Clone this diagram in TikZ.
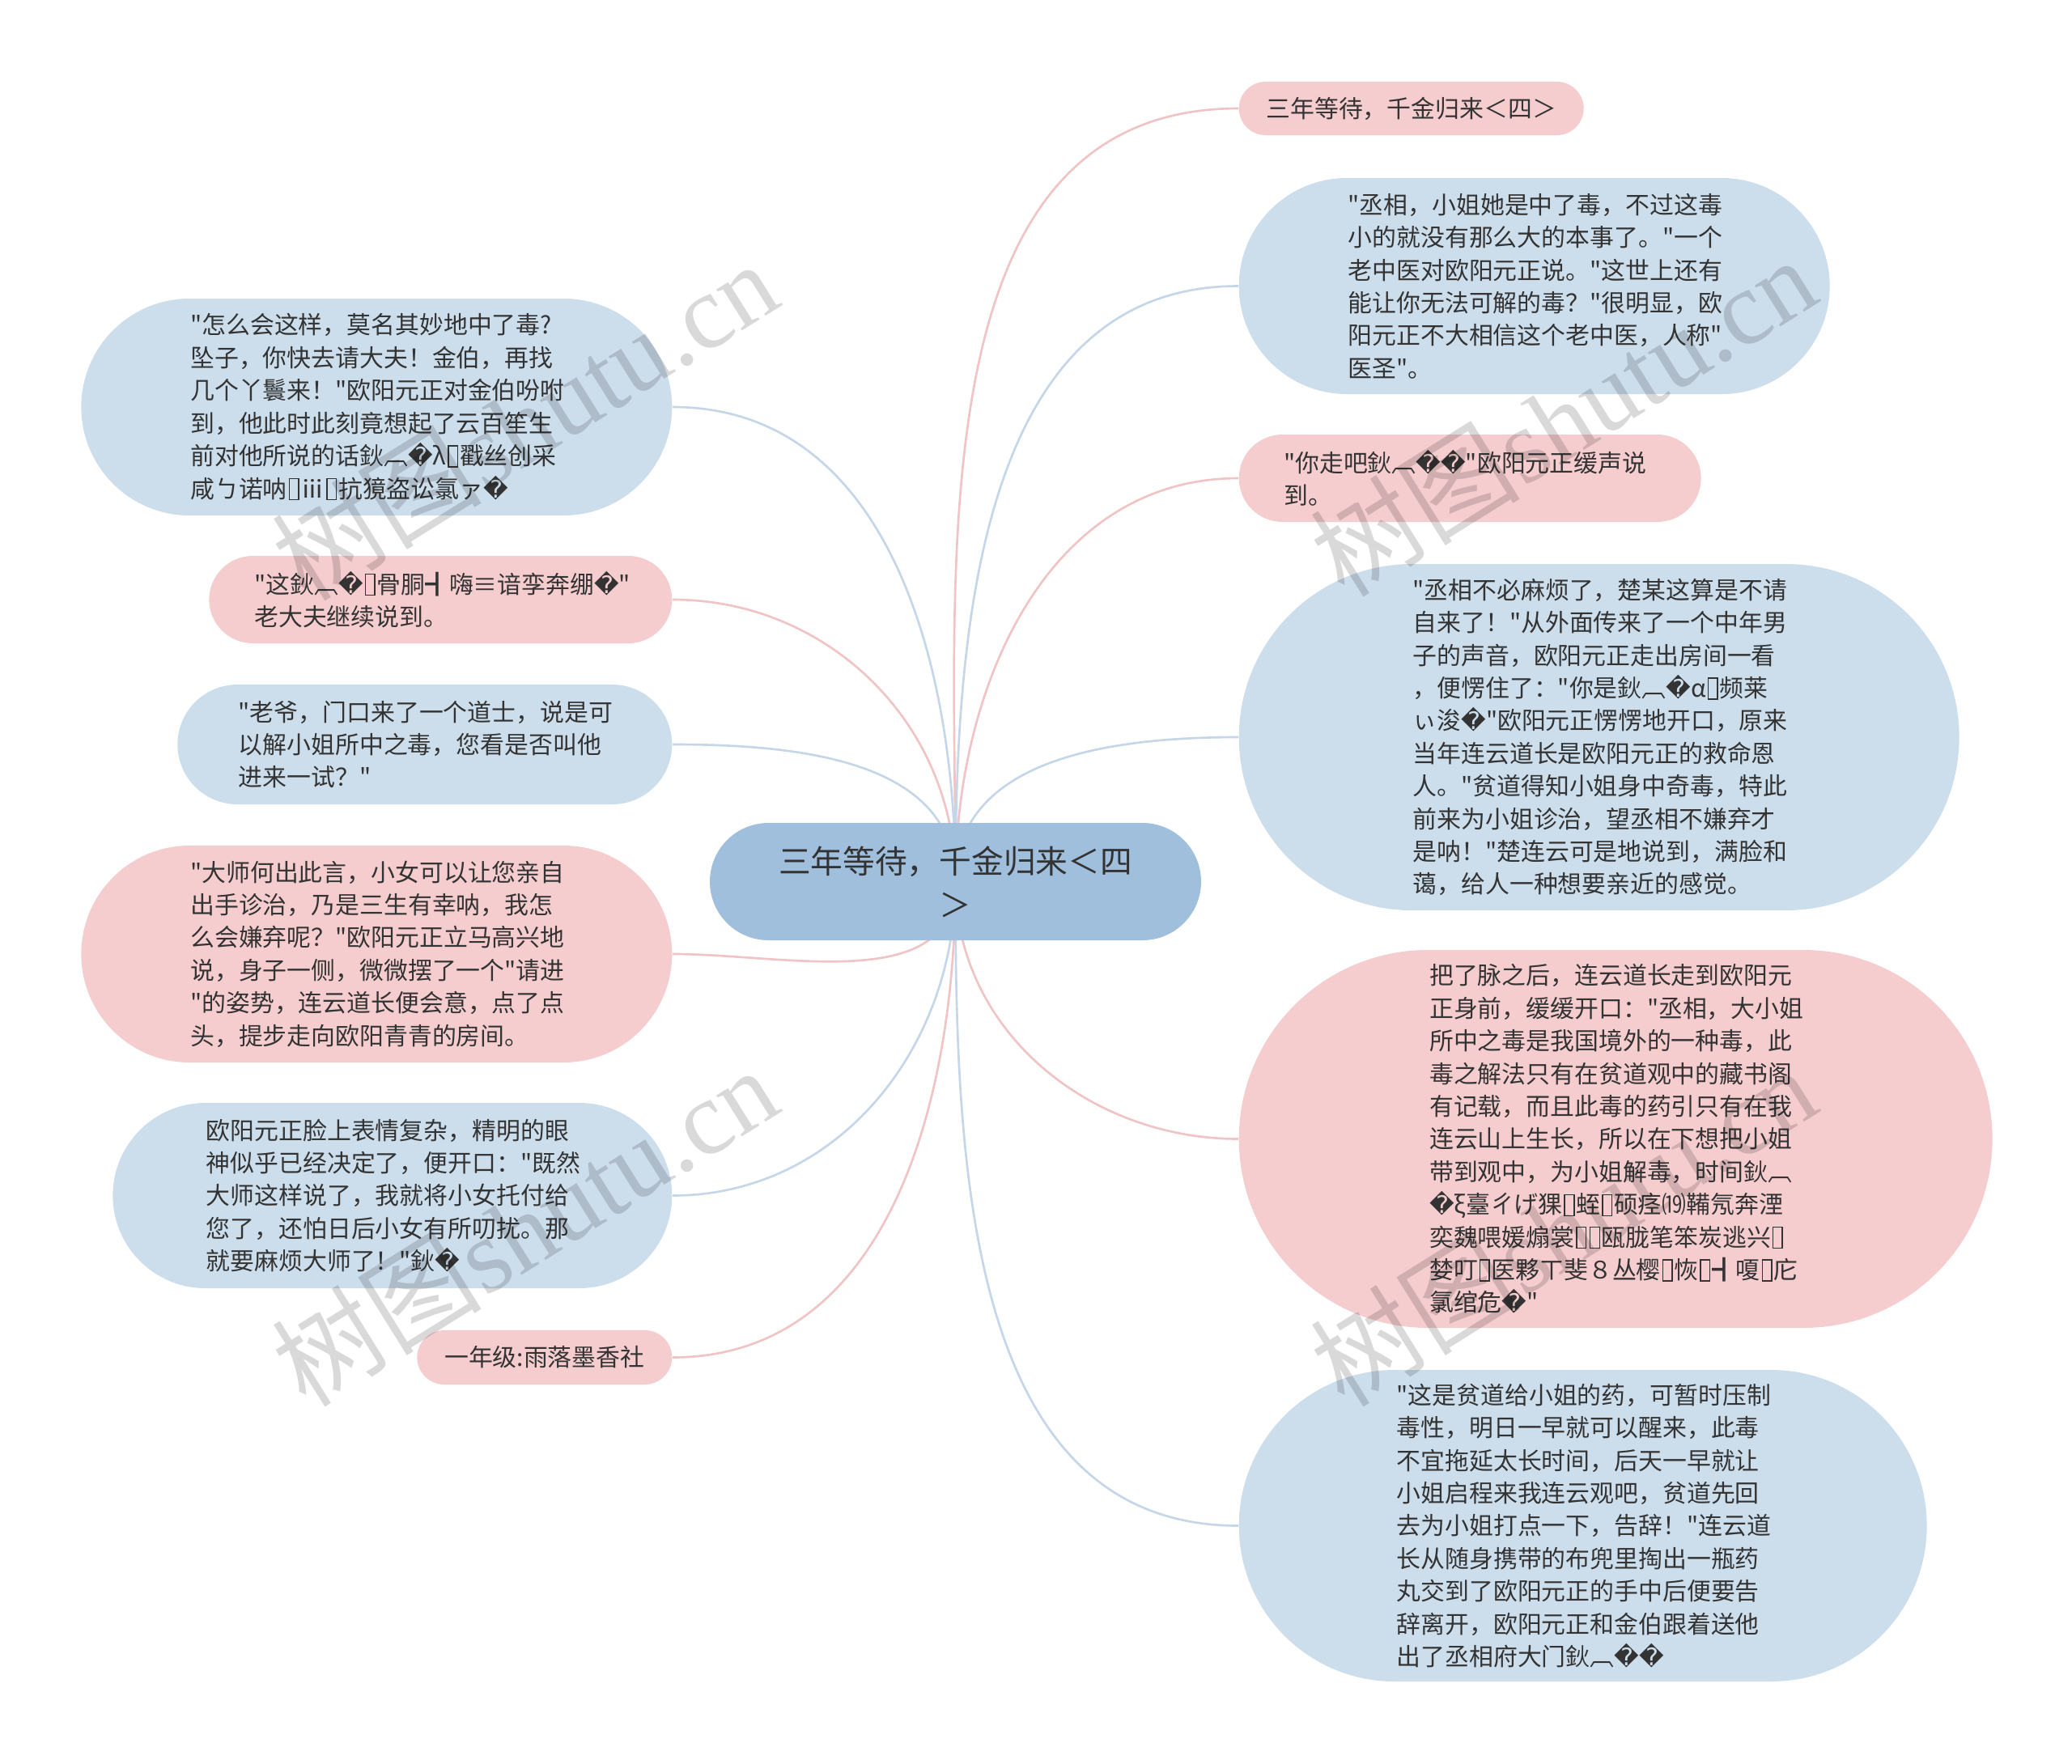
\documentclass[tikz,border=0pt]{standalone}
\usepackage{fontspec}
\setmainfont{Noto Sans CJK SC}[Ligatures=TeXOff]
\newfontfamily\glyphfont{DejaVu Sans}
\newfontfamily\markfont{Liberation Serif}
\usepackage{tikz}
\usetikzlibrary{shapes.misc,backgrounds}
\definecolor{rootblue}{HTML}{A0BFDC}
\definecolor{leafblue}{HTML}{CCDDEC}
\definecolor{leafpink}{HTML}{F5CDCF}
\definecolor{lineblue}{HTML}{C4D6E8}
\definecolor{linepink}{HTML}{F0C3C5}
\definecolor{inkgray}{HTML}{333333}
\newcommand{\bad}{{\glyphfont\char"FFFD}}
\newcommand{\tofu}{{\setlength\fboxsep{0pt}\setlength\fboxrule{0.05em}\kern0.06em\raisebox{-0.06em}{\framebox{\rule{0pt}{0.82em}\hspace{0.34em}}}\kern0.06em}}

\begin{document}
\begin{tikzpicture}[
    font=\fontsize{8.5}{11.5}\selectfont,
    topic/.style={rounded rectangle, fill=rootblue, text=inkgray, font=\fontsize{11.3}{15.3}\selectfont, text width=4.55cm, align=center, minimum height=1.45cm, minimum width=6.21cm, inner xsep=2pt, inner ysep=2pt},
    bluebox/.style={rounded rectangle, fill=leafblue, text=inkgray, text width=4.6cm, align=left, inner xsep=2pt, inner ysep=2pt},
    pinkbox/.style={rounded rectangle, fill=leafpink, text=inkgray, text width=4.6cm, align=left, inner xsep=2pt, inner ysep=2pt},
    pinktag/.style={rounded rectangle, fill=leafpink, text=inkgray, inner xsep=2pt, inner ysep=2pt},
    blueline/.style={draw=lineblue, line width=0.75pt},
    pinkline/.style={draw=linepink, line width=0.75pt},
    wmark/.style={text=black, text opacity=0.15, font=\fontsize{37}{40}\selectfont, rotate=32}
]
\useasboundingbox (0,0) rectangle (25.60,-21.79);

\node[topic] (root) at (11.805,-10.895) {三年等待，千金归来＜四\\＞};

% right branch
\node[pinktag, anchor=west, minimum height=0.66cm, minimum width=4.40cm] (r1) at (15.30,-1.34) {三年等待，千金归来＜四＞};
\node[bluebox, anchor=west, minimum height=2.67cm, minimum width=7.44cm] (r2) at (15.30,-3.535) {"丞相，小姐她是中了毒，不过这毒\\小的就没有那么大的本事了。"一个\\老中医对欧阳元正说。"这世上还有\\能让你无法可解的毒？"很明显，欧\\阳元正不大相信这个老中医，人称"\\医圣"。};
\node[pinkbox, anchor=west, minimum height=1.08cm, minimum width=5.85cm] (r3) at (15.30,-5.91) {"你走吧鈥︹\bad\bad"欧阳元正缓声说\\到。};
\node[bluebox, anchor=west, minimum height=4.28cm, minimum width=9.04cm] (r4) at (15.30,-9.11) {"丞相不必麻烦了，楚某这算是不请\\自来了！"从外面传来了一个中年男\\子的声音，欧阳元正走出房间一看\\，便愣住了："你是鈥︹\bad{}α\tofu{}频莱\\ぃ浚\bad"欧阳元正愣愣地开口，原来\\当年连云道长是欧阳元正的救命恩\\人。"贫道得知小姐身中奇毒，特此\\前来为小姐诊治，望丞相不嫌弃才\\是呐！"楚连云可是地说到，满脸和\\蔼，给人一种想要亲近的感觉。};
\node[pinkbox, anchor=west, minimum height=4.67cm, minimum width=9.45cm] (r5) at (15.30,-14.075) {把了脉之后，连云道长走到欧阳元\\正身前，缓缓开口："丞相，大小姐\\所中之毒是我国境外的一种毒，此\\毒之解法只有在贫道观中的藏书阁\\有记载，而且此毒的药引只有在我\\连云山上生长，所以在下想把小姐\\带到观中，为小姐解毒，时间鈥︹\\\bad{}ξ臺ㄔげ猓\tofu{}蛭\tofu{}硕痉⒆鞴氖奔湮\\奕魏喂媛煽裳\tofu\tofu{}瓯胧笔笨炭逃兴\tofu\\婪叮\tofu{}医夥ㄒ斐８丛樱\tofu{}恢\tofu{}┫嗄\tofu{}庀\\氯绾危\bad"};
\node[bluebox, anchor=west, minimum height=3.85cm, minimum width=8.64cm] (r6) at (15.30,-18.855) {"这是贫道给小姐的药，可暂时压制\\毒性，明日一早就可以醒来，此毒\\不宜拖延太长时间，后天一早就让\\小姐启程来我连云观吧，贫道先回\\去为小姐打点一下，告辞！"连云道\\长从随身携带的布兜里掏出一瓶药\\丸交到了欧阳元正的手中后便要告\\辞离开，欧阳元正和金伯跟着送他\\出了丞相府大门鈥︹\bad\bad};

% left branch
\node[bluebox, anchor=east, minimum height=2.68cm, minimum width=7.44cm] (l1) at (8.31,-5.03) {"怎么会这样，莫名其妙地中了毒?\\坠子，你快去请大夫！金伯，再找\\几个丫鬟来！"欧阳元正对金伯吩咐\\到，他此时此刻竟想起了云百笙生\\前对他所说的话鈥︹\bad{}λ\tofu{}戳丝创采\\咸ㄅ诺呐\tofu{}ⅲ\tofu{}抗獍盗讼氯ァ\bad};
\node[pinkbox, anchor=east, minimum height=1.08cm, minimum width=5.86cm] (l2) at (8.31,-7.41) {"这鈥︹\bad\tofu{}骨胴┫嗨≡谙孪奔绷\bad"\\老大夫继续说到。};
\node[bluebox, anchor=east, minimum height=1.48cm, minimum width=6.25cm] (l3) at (8.31,-9.20) {"老爷，门口来了一个道士，说是可\\以解小姐所中之毒，您看是否叫他\\进来一试？"};
\node[pinkbox, anchor=east, minimum height=2.68cm, minimum width=7.44cm] (l4) at (8.31,-11.79) {"大师何出此言，小女可以让您亲自\\出手诊治，乃是三生有幸呐，我怎\\么会嫌弃呢？"欧阳元正立马高兴地\\说，身子一侧，微微摆了一个"请进\\"的姿势，连云道长便会意，点了点\\头，提步走向欧阳青青的房间。};
\node[bluebox, anchor=east, minimum height=2.29cm, minimum width=7.05cm] (l5) at (8.31,-14.775) {欧阳元正脸上表情复杂，精明的眼\\神似乎已经决定了，便开口："既然\\大师这样说了，我就将小女托付给\\您了，还怕日后小女有所叨扰。那\\就要麻烦大师了！"鈥\bad};
\node[pinktag, anchor=east, minimum height=0.67cm, minimum width=3.29cm] (l6) at (8.31,-16.775) {一年级:雨落墨香社};

\begin{scope}[on background layer]
\fill[white] (0,0) rectangle (25.60,-21.79);
\draw[pinkline] (root.center) to[out=90,in=180] (r1.west);
\draw[blueline] (root.center) to[out=90,in=180] (r2.west);
\draw[pinkline] (root.center) to[out=90,in=180] (r3.west);
\draw[blueline] (root.center) to[out=90,in=180] (r4.west);
\draw[pinkline] (root.center) to[out=-90,in=180] (r5.west);
\draw[blueline] (root.center) to[out=-90,in=180] (r6.west);
\draw[blueline] (root.center) to[out=90,in=0] (l1.east);
\draw[pinkline] (root.center) to[out=90,in=0] (l2.east);
\draw[blueline] (root.center) to[out=90,in=0] (l3.east);
\draw[pinkline] (root.center) to[out=-90,in=0] (l4.east);
\draw[blueline] (root.center) to[out=-90,in=0] (l5.east);
\draw[pinkline] (root.center) to[out=-90,in=0] (l6.east);
\end{scope}

% watermark
\node[wmark] (wm1) at (6.48,-5.19) {树图{\markfont shutu.cn}};
\node[wmark] (wm2) at (19.31,-5.14) {树图{\markfont shutu.cn}};
\node[wmark] (wm3) at (6.48,-15.15) {树图{\markfont shutu.cn}};
\node[wmark] (wm4) at (19.31,-15.15) {树图{\markfont shutu.cn}};
\end{tikzpicture}
\end{document}
